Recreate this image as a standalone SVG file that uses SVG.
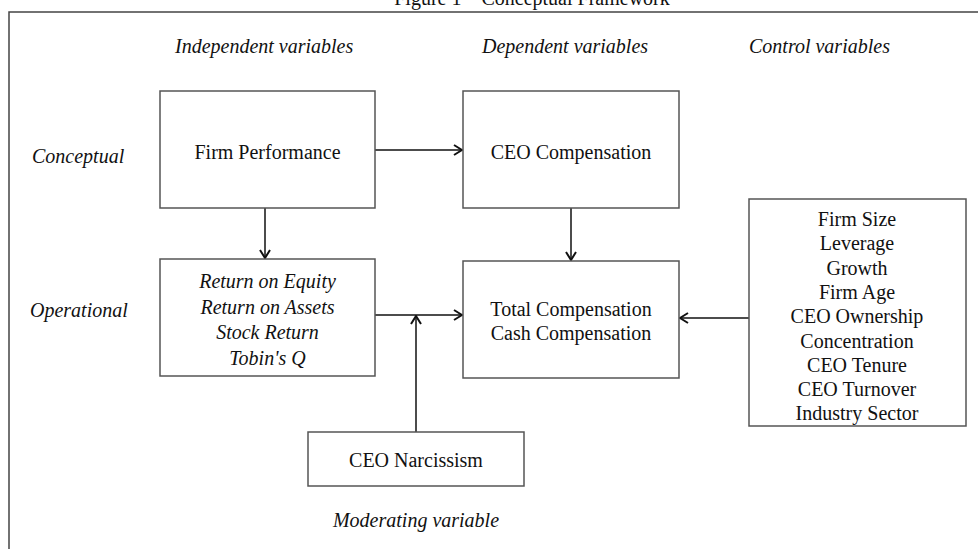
<svg xmlns="http://www.w3.org/2000/svg" width="978" height="549" viewBox="0 0 978 549">
<style>
text{font-family:"Liberation Serif","Times New Roman",serif;font-size:20px;fill:#111}
.i{font-style:italic}
.c{text-anchor:middle}
.box{fill:#fff;stroke:#555;stroke-width:1.5}
.ln{fill:none;stroke:#111;stroke-width:1.5}
</style>
<defs>
<marker id="ah" viewBox="0 0 10 12" refX="9" refY="6" markerWidth="10" markerHeight="12" markerUnits="userSpaceOnUse" orient="auto">
<path d="M1,1 L9,6 L1,11" fill="none" stroke="#111" stroke-width="2"/>
</marker>
</defs>
<rect width="978" height="549" fill="#fff"/>
<text class="c" x="532" y="5">Figure 1 – Conceptual Framework</text>
<path d="M9,549 V12 H978" fill="none" stroke="#444" stroke-width="1.5"/>
<g id="headers">
<text class="i" x="175" y="53">Independent variables</text>
<text class="i" x="482" y="53">Dependent variables</text>
<text class="i" x="749" y="53">Control variables</text>
<text class="i" x="32" y="163">Conceptual</text>
<text class="i" x="30" y="317">Operational</text>
<text class="i c" x="416" y="527">Moderating variable</text>
</g>
<g id="connectors">
<line class="ln" x1="375" y1="150" x2="462" y2="150" marker-end="url(#ah)"/>
<line class="ln" x1="265" y1="208" x2="265" y2="258" marker-end="url(#ah)"/>
<line class="ln" x1="571" y1="208" x2="571" y2="260" marker-end="url(#ah)"/>
<line class="ln" x1="375" y1="315" x2="462" y2="315" marker-end="url(#ah)"/>
<line class="ln" x1="416" y1="432" x2="416" y2="316" marker-end="url(#ah)"/>
<line class="ln" x1="749" y1="318" x2="680" y2="318" marker-end="url(#ah)"/>
</g>
<g id="firm-performance">
<rect class="box" x="160" y="91" width="215" height="117"/>
<text class="c" x="267.5" y="159">Firm Performance</text>
</g>
<g id="ceo-compensation">
<rect class="box" x="463" y="91" width="216" height="117"/>
<text class="c" x="571" y="159">CEO Compensation</text>
</g>
<g id="performance-measures">
<rect class="box" x="160" y="259" width="215" height="117"/>
<text class="i c" x="267.5" y="288">Return on Equity</text>
<text class="i c" x="267.5" y="313.5">Return on Assets</text>
<text class="i c" x="267.5" y="339">Stock Return</text>
<text class="i c" x="267.5" y="364.5">Tobin's Q</text>
</g>
<g id="compensation-measures">
<rect class="box" x="463" y="261" width="216" height="117"/>
<text class="c" x="571" y="316">Total Compensation</text>
<text class="c" x="571" y="340">Cash Compensation</text>
</g>
<g id="ceo-narcissism">
<rect class="box" x="308" y="432" width="216" height="54"/>
<text class="c" x="416" y="467">CEO Narcissism</text>
</g>
<g id="control-variables">
<rect class="box" x="749" y="199" width="217" height="227"/>
<text class="c" x="857" y="226">Firm Size</text>
<text class="c" x="857" y="250.3">Leverage</text>
<text class="c" x="857" y="274.6">Growth</text>
<text class="c" x="857" y="298.9">Firm Age</text>
<text class="c" x="857" y="323.2">CEO Ownership</text>
<text class="c" x="857" y="347.5">Concentration</text>
<text class="c" x="857" y="371.8">CEO Tenure</text>
<text class="c" x="857" y="396.1">CEO Turnover</text>
<text class="c" x="857" y="420.4">Industry Sector</text>
</g>
</svg>
